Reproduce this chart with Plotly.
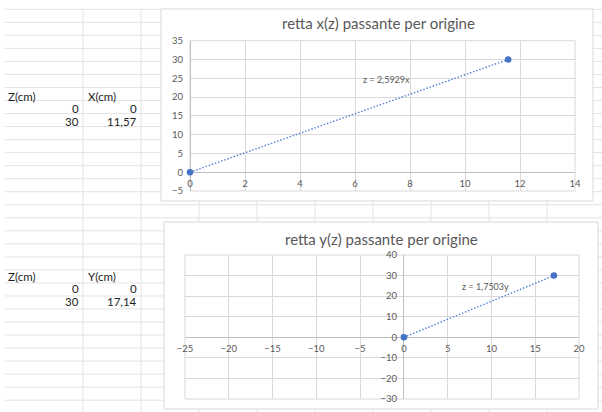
import plotly.graph_objects as go

# ---------------- data ----------------
z_cm = [0, 30]
x_cm = [0, 11.57]
y_cm = [0, 17.14]
table1_headers = ["Z(cm)", "X(cm)"]
table2_headers = ["Z(cm)", "Y(cm)"]
title1 = "retta x(z) passante per origine"
title2 = "retta y(z) passante per origine"
x1_ticks = [0, 2, 4, 6, 8, 10, 12, 14]
y1_ticks = [-5, 0, 5, 10, 15, 20, 25, 30, 35]
x2_ticks = [-25, -20, -15, -10, -5, 0, 5, 10, 15, 20]
y2_ticks = [-30, -20, -10, 0, 10, 20, 30, 40]

W, H = 602, 412
FONT = "Lato, 'Open Sans', sans-serif"
BLUE = "#4472C4"
GRID = "#d9d9d9"
TICKC = "#595959"
SHEET = "#e3e3e3"


def px(x):
    return x / W


def py(y):
    return 1 - y / H


def it_num(v):
    s = f"{v:g}" if float(v).is_integer() else f"{v:.2f}"
    return s.replace(".", ",")


def fit_origin(xs, zs):
    return sum(a * b for a, b in zip(xs, zs)) / sum(a * a for a in xs)


k1 = fit_origin(x_cm, z_cm)
k2 = fit_origin(y_cm, z_cm)

TREND = dict(color="#5283d6", width=1.4, dash="1.5px,1.8px")

fig = go.Figure()

# chart 1 traces
fig.add_trace(go.Scatter(x=[0, max(x_cm)], y=[0, k1 * max(x_cm)], mode="lines", line=TREND,
                         xaxis="x", yaxis="y", hoverinfo="skip", cliponaxis=False))
fig.add_trace(go.Scatter(x=x_cm, y=z_cm, mode="markers",
                         marker=dict(color=BLUE, size=6.5),
                         xaxis="x", yaxis="y", cliponaxis=False))
# chart 2 traces
fig.add_trace(go.Scatter(x=[0, max(y_cm)], y=[0, k2 * max(y_cm)], mode="lines", line=TREND,
                         xaxis="x2", yaxis="y2", hoverinfo="skip", cliponaxis=False))
fig.add_trace(go.Scatter(x=y_cm, y=z_cm, mode="markers",
                         marker=dict(color=BLUE, size=6.5),
                         xaxis="x2", yaxis="y2", cliponaxis=False))

shapes = []
# spreadsheet grid
for n in range(31):
    yy = 9.3 + 13.03 * n
    shapes.append(dict(type="line", xref="paper", yref="paper", x0=px(5), x1=1,
                       y0=py(yy), y1=py(yy), line=dict(color=SHEET, width=1), layer="below"))
for n in range(9):
    xx = 83 + 58 * n
    shapes.append(dict(type="line", xref="paper", yref="paper", x0=px(xx), x1=px(xx),
                       y0=py(9.3), y1=0, line=dict(color=SHEET, width=1), layer="below"))
# chart boxes
for (x0, y0, x1, y1) in [(161, 9, 593, 201), (164, 222, 598, 409)]:
    shapes.append(dict(type="rect", xref="paper", yref="paper", x0=px(x0), x1=px(x1),
                       y0=py(y1), y1=py(y0), fillcolor="white",
                       line=dict(color="#d9d9d9", width=1), layer="below"))
# plot-area frames
for xr, yr in [("x domain", "y domain"), ("x2 domain", "y2 domain")]:
    shapes.append(dict(type="rect", xref=xr, yref=yr, x0=0, x1=1, y0=0, y1=1,
                       line=dict(color=GRID, width=1), layer="below"))

annotations = []
TXT = dict(family=FONT, size=11.5, color="#1e1e1e")


def add_table(headers, col1, col2, y_header):
    annotations.append(dict(text=headers[0], x=px(6), y=py(y_header), xref="paper", yref="paper",
                            xanchor="left", yanchor="middle", showarrow=False, font=TXT))
    annotations.append(dict(text=headers[1], x=px(86), y=py(y_header), xref="paper", yref="paper",
                            xanchor="left", yanchor="middle", showarrow=False, font=TXT))
    for i, (a, b) in enumerate(zip(col1, col2)):
        yy = y_header + 12.9 * (i + 1)
        annotations.append(dict(text=it_num(a), x=px(81), y=py(yy), xref="paper", yref="paper",
                                xanchor="right", yanchor="middle", showarrow=False, font=TXT))
        annotations.append(dict(text=it_num(b), x=px(139), y=py(yy), xref="paper", yref="paper",
                                xanchor="right", yanchor="middle", showarrow=False, font=TXT))


add_table(table1_headers, z_cm, x_cm, 96)
add_table(table2_headers, z_cm, y_cm, 276)

# titles
annotations.append(dict(text=title1, x=px(378), y=py(22.5), xref="paper", yref="paper",
                        xanchor="center", yanchor="middle", showarrow=False,
                        font=dict(family=FONT, size=15, color=TICKC)))
annotations.append(dict(text=title2, x=px(381), y=py(238.5), xref="paper", yref="paper",
                        xanchor="center", yanchor="middle", showarrow=False,
                        font=dict(family=FONT, size=15, color=TICKC)))
# trendline equations
annotations.append(dict(text=f"z = {k1:.4f}x".replace(".", ","), x=7.15, y=24.8,
                        xref="x", yref="y", showarrow=False,
                        font=dict(family=FONT, size=9, color=TICKC)))
annotations.append(dict(text=f"z = {k2:.4f}y".replace(".", ","), x=9.3, y=24.5,
                        xref="x2", yref="y2", showarrow=False,
                        font=dict(family=FONT, size=9, color=TICKC)))

tickfont = dict(family=FONT, size=9.5, color=TICKC)
common = dict(showgrid=True, gridcolor=GRID, gridwidth=1, zeroline=True,
              zerolinecolor="#bfbfbf", zerolinewidth=1, showline=False, ticks="",
              tickfont=tickfont, fixedrange=True, automargin=False)

fig.update_layout(
    width=W, height=H, autosize=False,
    margin=dict(l=0, r=0, t=0, b=0, pad=0),
    paper_bgcolor="white", plot_bgcolor="rgba(0,0,0,0)",
    showlegend=False,
    shapes=shapes, annotations=annotations,
    xaxis=dict(domain=[px(190), px(575)], range=[0, 14], tickvals=x1_ticks,
               anchor="free", position=py(172), ticklabelstandoff=4, **common),
    yaxis=dict(domain=[py(191), py(40.7)], range=[-5, 35], tickvals=y1_ticks,
               anchor="x", ticklabelstandoff=6, **common),
    xaxis2=dict(domain=[px(185), px(579)], range=[-25, 20], tickvals=x2_ticks,
                anchor="free", position=py(337), ticklabelstandoff=4, **common),
    yaxis2=dict(domain=[py(399), py(255)], range=[-30, 40], tickvals=y2_ticks,
                anchor="free", position=px(403), ticklabelstandoff=6, **common),
)

# remove the default 8px page margin right away
sync_css = ("}); document.body.style.margin='0'; document.body.style.padding='0'; "
            "Promise.resolve().then(function(){")
fig.write_html("out.html", config={"displayModeBar": False}, post_script=sync_css)
